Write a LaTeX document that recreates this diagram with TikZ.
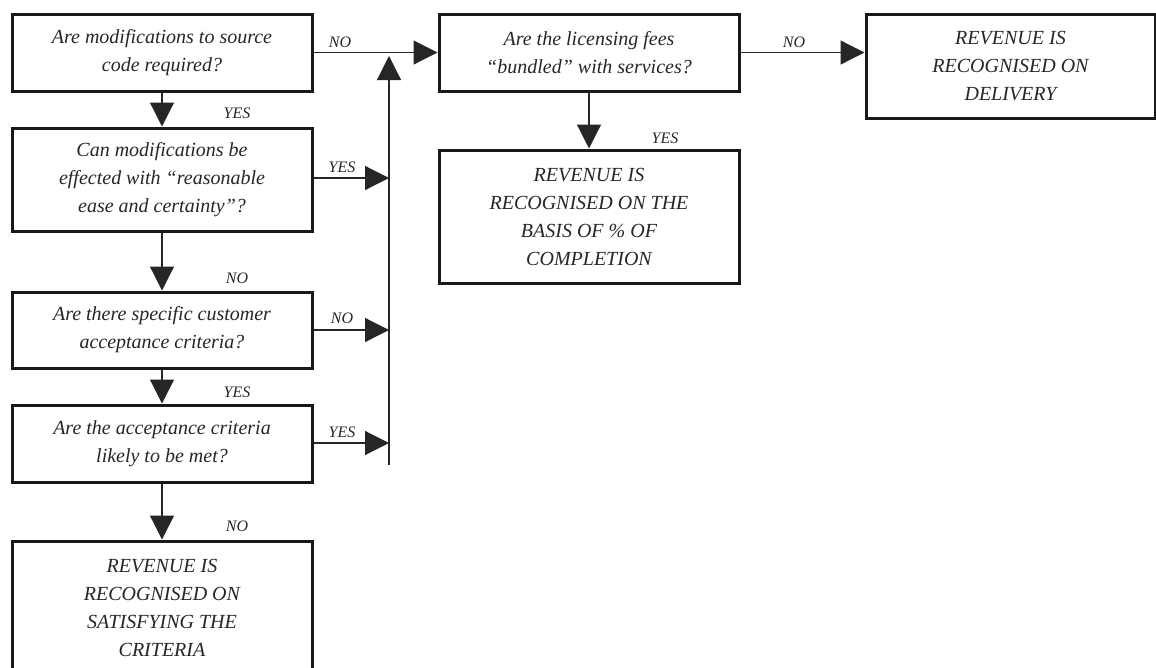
\documentclass[tikz,border=0pt]{standalone}
\usepackage{fontspec}
\setmainfont{Liberation Serif}
\usetikzlibrary{arrows.meta}
\begin{document}
\begin{tikzpicture}[x=1pt,y=-1pt,
  box/.style={draw=black!90,line width=3pt,inner sep=0pt,align=center,
    font=\fontsize{20}{28}\selectfont\itshape,text=black!85,
    execute at begin node={\rule{0pt}{19pt}}},
  lab/.style={font=\fontsize{16}{18}\selectfont\itshape,text=black!85,inner sep=0pt},
  conn/.style={draw=black!85,line width=1.2pt,-{Triangle[width=24pt,length=24pt]}}]
\useasboundingbox (0,0) rectangle (1156,667);
\clip (0,0) rectangle (1156,667);
\node[box,minimum width=300pt,minimum height=77pt] (b1) at (162,52.5)
  {Are modifications to source\\code required?};
\node[box,minimum width=300pt,minimum height=103pt] (b2) at (162,179.5)
  {Can modifications be\\effected with “reasonable\\ease and certainty”?};
\node[box,minimum width=300pt,minimum height=76pt] (b3) at (162,330)
  {Are there specific customer\\acceptance criteria?};
\node[box,minimum width=300pt,minimum height=77pt] (b4) at (162,443.5)
  {Are the acceptance criteria\\likely to be met?};
\node[box,minimum width=300pt,minimum height=134pt] (b5) at (162,608)
  {REVENUE IS\\RECOGNISED ON\\SATISFYING THE\\CRITERIA};
\node[box,minimum width=300pt,minimum height=77pt] (b6) at (589,52.5)
  {Are the licensing fees\\“bundled” with services?};
\node[box,minimum width=300pt,minimum height=133pt] (b7) at (589,216.5)
  {REVENUE IS\\RECOGNISED ON THE\\BASIS OF \% OF\\COMPLETION};
\node[box,minimum width=289pt,minimum height=104pt] (b8) at (1010.5,66)
  {REVENUE IS\\RECOGNISED ON\\DELIVERY};
\coordinate (vbot) at (389,465);
\coordinate (vtop) at (389,56);
\coordinate (j2) at (389,178);
\coordinate (j3) at (389,330);
\coordinate (j4) at (389,443);
\draw[conn] (b1.south) -- (b2.north);
\draw[conn] (b2.south) -- (b3.north);
\draw[conn] (b3.south) -- (b4.north);
\draw[conn] (b4.south) -- (b5.north);
\draw[conn] (b1.east) -- (b6.west);
\draw[conn] (vbot) -- (vtop);
\draw[conn] (b2.east |- j2) -- (j2);
\draw[conn] (b3.east) -- (j3);
\draw[conn] (b4.east |- j4) -- (j4);
\draw[conn] (b6.south) -- (b7.north);
\draw[conn] (b6.east) -- (b6.east -| b8.west);
\node[lab] (l1) at (340,42) {NO};
\node[lab] (l2) at (237,113) {YES};
\node[lab] (l3) at (342,167) {YES};
\node[lab] (l4) at (237,278) {NO};
\node[lab] (l5) at (342,318) {NO};
\node[lab] (l6) at (237,392) {YES};
\node[lab] (l7) at (342,432) {YES};
\node[lab] (l8) at (237,526) {NO};
\node[lab] (l9) at (665,138) {YES};
\node[lab] (l10) at (794,42) {NO};
\end{tikzpicture}
\end{document}
